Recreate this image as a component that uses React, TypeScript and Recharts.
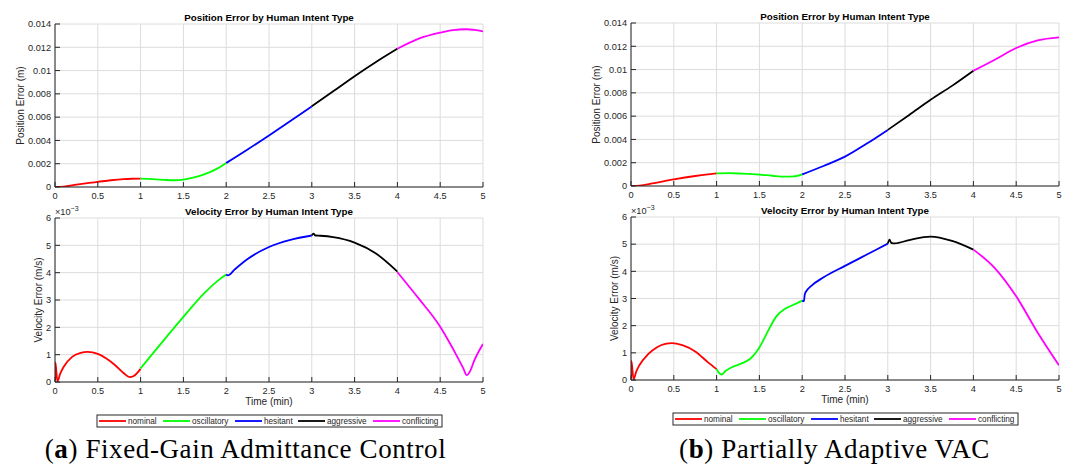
import React from 'react';
import { LineChart, Line, XAxis, YAxis, CartesianGrid } from 'recharts';

const FONT = '"Liberation Sans", Arial, Helvetica, sans-serif';
const SERIF = '"Liberation Serif", "Times New Roman", serif';
const AXIS_COLOR = '#262626';
const GRID_COLOR = '#dcdcdc';

const intentNames = ['nominal', 'oscillatory', 'hesitant', 'aggressive', 'conflicting'];
const intentColors = ['#ff0000', '#00ff00', '#0000ff', '#000000', '#ff00ff'];

const timeTicks = [0, 0.5, 1, 1.5, 2, 2.5, 3, 3.5, 4, 4.5, 5];
const timeTickLabels = ['0', '0.5', '1', '1.5', '2', '2.5', '3', '3.5', '4', '4.5', '5'];
const posTicks = [0, 0.002, 0.004, 0.006, 0.008, 0.01, 0.012, 0.014];
const posTickLabels = ['0', '0.002', '0.004', '0.006', '0.008', '0.01', '0.012', '0.014'];
// velocity values are stored in units of 1e-3 m/s (axis shows x10^-3)
const velTicks = [0, 1, 2, 3, 4, 5, 6];
const velTickLabels = ['0', '1', '2', '3', '4', '5', '6'];

const captionTags = ['a', 'b'];
const captionTexts = ['Fixed-Gain Admittance Control', 'Partially Adaptive VAC'];

type Pt = [number, number];

// (a) fixed gain - position error [min, m]
const posFixedNominal: Pt[] = [[0, 0], [0.1, 0.00004], [0.25, 0.0002], [0.4, 0.00035], [0.5, 0.00044], [0.65, 0.00058], [0.8, 0.00068], [0.9, 0.00071], [1, 0.00072]];
const posFixedOscillatory: Pt[] = [[1, 0.00072], [1.15, 0.00068], [1.3, 0.0006], [1.4, 0.00058], [1.5, 0.00064], [1.6, 0.00078], [1.75, 0.0011], [1.9, 0.0016], [2, 0.00206]];
const posFixedHesitant: Pt[] = [[2, 0.00206], [2.25, 0.00322], [2.5, 0.00443], [2.75, 0.00567], [3, 0.00693]];
const posFixedAggressive: Pt[] = [[3, 0.00693], [3.25, 0.00822], [3.5, 0.00952], [3.75, 0.01074], [4, 0.01188]];
const posFixedConflicting: Pt[] = [[4, 0.01188], [4.25, 0.01275], [4.5, 0.01326], [4.65, 0.01348], [4.8, 0.01355], [4.9, 0.0135], [5, 0.01337]];

// (a) fixed gain - velocity error [min, 1e-3 m/s]
const velFixedNominal: Pt[] = [[0, 0.05], [0.005, 0.72], [0.028, 0.02], [0.06, 0.3], [0.1, 0.55], [0.2, 0.92], [0.3, 1.07], [0.38, 1.1], [0.5, 1.03], [0.6, 0.86], [0.7, 0.62], [0.8, 0.33], [0.87, 0.18], [0.92, 0.22], [1, 0.48]];
const velFixedOscillatory: Pt[] = [[1, 0.5], [1.1, 0.88], [1.25, 1.45], [1.5, 2.38], [1.75, 3.27], [1.9, 3.7], [2, 3.93]];
const velFixedHesitant: Pt[] = [[2, 3.93], [2.02, 3.9], [2.1, 4.12], [2.25, 4.5], [2.5, 4.94], [2.75, 5.2], [3, 5.36]];
const velFixedAggressive: Pt[] = [[3, 5.36], [3.02, 5.43], [3.04, 5.36], [3.1, 5.35], [3.25, 5.3], [3.5, 5.1], [3.75, 4.7], [4, 4.04]];
const velFixedConflicting: Pt[] = [[4, 4.02], [4.25, 3.05], [4.5, 2.02], [4.6, 1.49], [4.7, 0.92], [4.77, 0.5], [4.81, 0.25], [4.85, 0.4], [4.9, 0.8], [5, 1.39]];

// (b) partially adaptive - position error [min, m]
const posAdaptNominal: Pt[] = [[0, 0], [0.1, 0.00004], [0.25, 0.00022], [0.5, 0.00057], [0.75, 0.00086], [0.9, 0.001], [1, 0.00108]];
const posAdaptOscillatory: Pt[] = [[1, 0.00108], [1.15, 0.0011], [1.3, 0.00106], [1.5, 0.00098], [1.65, 0.00088], [1.8, 0.0008], [1.9, 0.00082], [2, 0.001]];
const posAdaptHesitant: Pt[] = [[2, 0.001], [2.25, 0.00172], [2.5, 0.00252], [2.75, 0.00362], [3, 0.00482]];
const posAdaptAggressive: Pt[] = [[3, 0.00482], [3.25, 0.0061], [3.5, 0.0074], [3.75, 0.0086], [4, 0.0099]];
const posAdaptConflicting: Pt[] = [[4, 0.0099], [4.25, 0.01085], [4.5, 0.01185], [4.75, 0.0125], [5, 0.01276]];

// (b) partially adaptive - velocity error [min, 1e-3 m/s]
const velAdaptNominal: Pt[] = [[0, 0.05], [0.005, 0.7], [0.03, 0.02], [0.06, 0.3], [0.1, 0.55], [0.2, 0.95], [0.3, 1.2], [0.4, 1.33], [0.48, 1.36], [0.6, 1.28], [0.75, 1.05], [0.9, 0.65], [1, 0.4]];
const velAdaptOscillatory: Pt[] = [[1, 0.4], [1.03, 0.25], [1.06, 0.2], [1.1, 0.32], [1.2, 0.5], [1.3, 0.62], [1.4, 0.8], [1.5, 1.2], [1.6, 1.8], [1.7, 2.35], [1.8, 2.62], [1.9, 2.77], [2, 2.92]];
const velAdaptHesitant: Pt[] = [[2, 2.92], [2.02, 2.9], [2.03, 3.15], [2.06, 3.32], [2.1, 3.45], [2.25, 3.78], [2.5, 4.2], [2.75, 4.61], [3, 5.02]];
const velAdaptAggressive: Pt[] = [[3, 5.02], [3.02, 5.17], [3.04, 5.05], [3.08, 5.03], [3.25, 5.15], [3.5, 5.28], [3.75, 5.12], [4, 4.8]];
const velAdaptConflicting: Pt[] = [[4, 4.8], [4.25, 4.12], [4.5, 3.08], [4.75, 1.75], [5, 0.54]];

type Rect = { x: number; y: number; w: number; h: number };

const PAD_L = 50;
const PAD_T = 6;
const PAD_R = 6;
const PAD_B = 22;

const labelFor = (ticks: number[], labels: string[]) => (v: number) => {
  const i = ticks.indexOf(v);
  return i >= 0 ? labels[i] : String(v);
};

function Subplot({ rect, segments, ticks, tickLabels }: { rect: Rect; segments: Pt[][]; ticks: number[]; tickLabels: string[] }) {
  const yMax = ticks[ticks.length - 1];
  const tickStyle = { fill: AXIS_COLOR, fontSize: 9.2, fontFamily: FONT };
  return (
    <div style={{ position: 'absolute', left: rect.x - PAD_L, top: rect.y - PAD_T }}>
      <LineChart
        width={PAD_L + rect.w + PAD_R}
        height={PAD_T + rect.h + PAD_B}
        margin={{ top: PAD_T, right: PAD_R, bottom: 0, left: 0 }}
      >
        <CartesianGrid stroke={GRID_COLOR} />
        <XAxis
          dataKey="t"
          type="number"
          domain={[0, 5]}
          ticks={timeTicks}
          interval={0}
          allowDataOverflow
          height={PAD_B}
          tickSize={-5}
          tickMargin={10.5}
          stroke={AXIS_COLOR}
          tick={tickStyle}
          tickFormatter={labelFor(timeTicks, timeTickLabels)}
        />
        <XAxis
          xAxisId="top"
          orientation="top"
          dataKey="t"
          type="number"
          domain={[0, 5]}
          ticks={timeTicks}
          interval={0}
          allowDataOverflow
          height={0}
          tickSize={-5}
          tick={false}
          stroke={AXIS_COLOR}
        />
        <YAxis
          type="number"
          domain={[0, yMax]}
          ticks={ticks}
          interval={0}
          allowDataOverflow
          width={PAD_L}
          tickSize={-5}
          tickMargin={9}
          stroke={AXIS_COLOR}
          tick={tickStyle}
          tickFormatter={labelFor(ticks, tickLabels)}
        />
        <YAxis
          yAxisId="right"
          orientation="right"
          type="number"
          domain={[0, yMax]}
          ticks={ticks}
          interval={0}
          allowDataOverflow
          width={0}
          tickSize={-5}
          tick={false}
          stroke={AXIS_COLOR}
        />
        {segments.map((seg, i) => (
          <Line
            key={intentNames[i]}
            name={intentNames[i]}
            data={seg.map(([t, v]) => ({ t, v }))}
            dataKey="v"
            type="monotone"
            stroke={intentColors[i]}
            strokeWidth={1.8}
            dot={false}
            activeDot={false}
            isAnimationActive={false}
          />
        ))}
      </LineChart>
    </div>
  );
}

const panels = [
  {
    pos: { x: 55, y: 24, w: 428, h: 163 },
    vel: { x: 55, y: 218, w: 428, h: 164 },
    posSeries: [posFixedNominal, posFixedOscillatory, posFixedHesitant, posFixedAggressive, posFixedConflicting],
    velSeries: [velFixedNominal, velFixedOscillatory, velFixedHesitant, velFixedAggressive, velFixedConflicting],
    captionX: 245.5,
  },
  {
    pos: { x: 631, y: 23, w: 428, h: 163 },
    vel: { x: 631, y: 217, w: 428, h: 163 },
    posSeries: [posAdaptNominal, posAdaptOscillatory, posAdaptHesitant, posAdaptAggressive, posAdaptConflicting],
    velSeries: [velAdaptNominal, velAdaptOscillatory, velAdaptHesitant, velAdaptAggressive, velAdaptConflicting],
    captionX: 834.5,
  },
];

const legendItemX = [2, 66, 138, 201, 276];

function Annotations() {
  return (
    <svg width={1072} height={464} style={{ position: 'absolute', left: 0, top: 0, pointerEvents: 'none' }}>
      {panels.map((p, k) => {
        const { pos, vel } = p;
        const lx = vel.x + 42;
        const ly = vel.y + vel.h + 33;
        return (
          <g key={k} fontFamily={FONT} fill={AXIS_COLOR}>
            <text x={pos.x + pos.w / 2} y={pos.y - 3.5} textAnchor="middle" fontSize={9.8} fontWeight="bold" fill="#000">
              Position Error by Human Intent Type
            </text>
            <text x={vel.x + vel.w / 2} y={vel.y - 3.5} textAnchor="middle" fontSize={9.8} fontWeight="bold" fill="#000">
              Velocity Error by Human Intent Type
            </text>
            <text
              x={pos.x - 34.5}
              y={pos.y + pos.h / 2}
              dy="0.35em"
              textAnchor="middle"
              fontSize={10}
              transform={`rotate(-90 ${pos.x - 34.5} ${pos.y + pos.h / 2})`}
            >
              Position Error (m)
            </text>
            <text
              x={vel.x - 17}
              y={vel.y + vel.h / 2}
              dy="0.35em"
              textAnchor="middle"
              fontSize={10}
              transform={`rotate(-90 ${vel.x - 17} ${vel.y + vel.h / 2})`}
            >
              Velocity Error (m/s)
            </text>
            <text x={vel.x} y={vel.y - 3} fontSize={9.2}>
              ×10<tspan dy={-4} fontSize={7}>−3</tspan>
            </text>
            <text x={vel.x + vel.w / 2} y={vel.y + vel.h + 22.5} textAnchor="middle" fontSize={10}>
              Time (min)
            </text>
            <rect x={lx} y={ly} width={345} height={12} fill="#fff" stroke={AXIS_COLOR} strokeWidth={1} />
            {intentNames.map((name, i) => (
              <g key={name}>
                <line x1={lx + legendItemX[i]} x2={lx + legendItemX[i] + 27} y1={ly + 6} y2={ly + 6} stroke={intentColors[i]} strokeWidth={1.8} />
                <text x={lx + legendItemX[i] + 29} y={ly + 9} fontSize={8.2}>
                  {name}
                </text>
              </g>
            ))}
            <text x={p.captionX} y={458} textAnchor="middle" fontFamily={SERIF} fontSize={27} letterSpacing={0.6} fill="#000">
              (<tspan fontWeight="bold">{captionTags[k]}</tspan>) {captionTexts[k]}
            </text>
          </g>
        );
      })}
    </svg>
  );
}

export default function App() {
  return (
    <div style={{ position: 'absolute', left: 0, top: 0, width: 1072, height: 464, background: '#fff', overflow: 'hidden' }}>
      {panels.map((p, k) => (
        <React.Fragment key={k}>
          <Subplot rect={p.pos} segments={p.posSeries} ticks={posTicks} tickLabels={posTickLabels} />
          <Subplot rect={p.vel} segments={p.velSeries} ticks={velTicks} tickLabels={velTickLabels} />
        </React.Fragment>
      ))}
      <Annotations />
    </div>
  );
}
